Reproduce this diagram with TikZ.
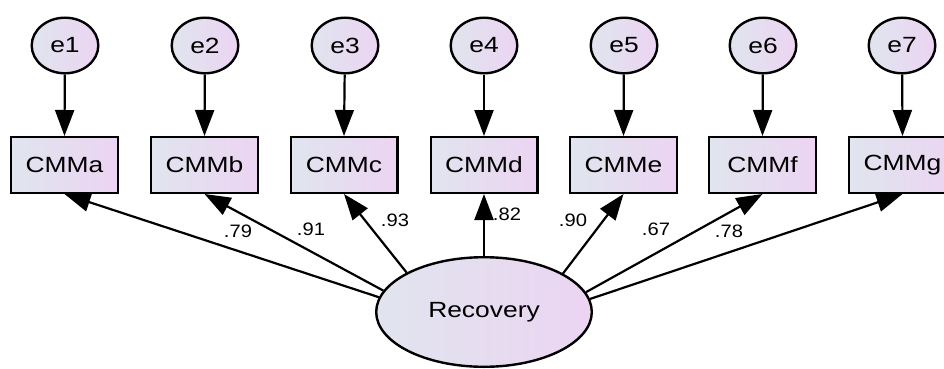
\documentclass[tikz,border=0pt]{standalone}
\usepackage{fontspec}
\setmainfont{Liberation Sans}[FakeStretch=1.2]
\newfontfamily\coeffont{Liberation Sans}[FakeStretch=1.12]
\usetikzlibrary{arrows.meta,shapes.geometric}
\definecolor{shadeL}{RGB}{224,229,238}
\definecolor{shadeR}{RGB}{236,212,242}

\begin{document}
\begin{tikzpicture}[x=1pt,y=-1pt,
  var/.style={draw=black, line width=2.4pt, left color=shadeL, right color=shadeR,
              font=\fontsize{22}{25}\selectfont, inner sep=0pt},
  obs/.style={var, rectangle, minimum width=106.6pt, minimum height=55.6pt},
  err/.style={var, ellipse, minimum width=66.6pt, minimum height=55.6pt},
  lat/.style={var, ellipse, minimum width=215.6pt, minimum height=109.6pt},
  load/.style={line width=2.2pt, -{Triangle[length=26pt,width=19pt]}},
  coef/.style={font=\coeffont\fontsize{18}{20}\selectfont, inner sep=0pt}]

\useasboundingbox (0,0) rectangle (944,369);
\clip (0,0) rectangle (944,369);

% indicators, their error terms and error paths
\foreach \n/\x in {a/64.5, b/204.5, c/344, d/484, e/623.5, f/762.5, g/902.5}{
  \node[obs] (\n) at (\x,165) {CMM\n};
}
\foreach \i/\n/\x in {1/a/65, 2/b/205, 3/c/345, 4/d/484, 5/e/624, 6/f/763, 7/g/902}{
  \node[err] (e\i) at (\x,45.5) {e\i};
  \draw[load] (e\i) -- (\n.north);
}

% latent factor
\node[lat] (rec) at (484,312) {Recovery};

% factor loadings
\draw[load] (rec.172.5) -- (a.south);
\draw[load] (rec.168.1) -- (b.south);
\draw[load] (rec.153.1) -- (c.south);
\draw[load] (rec.north) -- (d.south);
\draw[load] (rec.26.9)  -- (e.south);
\draw[load] (rec.11.9)  -- (f.south);
\draw[load] (rec.7.5)   -- (g.south);

\node[coef] (la) at (238,231) {.79};
\node[coef] (lb) at (311,229) {.91};
\node[coef] (lc) at (395,220) {.93};
\node[coef] (ld) at (507,214) {.82};
\node[coef] (le) at (573,220) {.90};
\node[coef] (lf) at (656,229) {.67};
\node[coef] (lg) at (729,231) {.78};
\end{tikzpicture}
\end{document}
